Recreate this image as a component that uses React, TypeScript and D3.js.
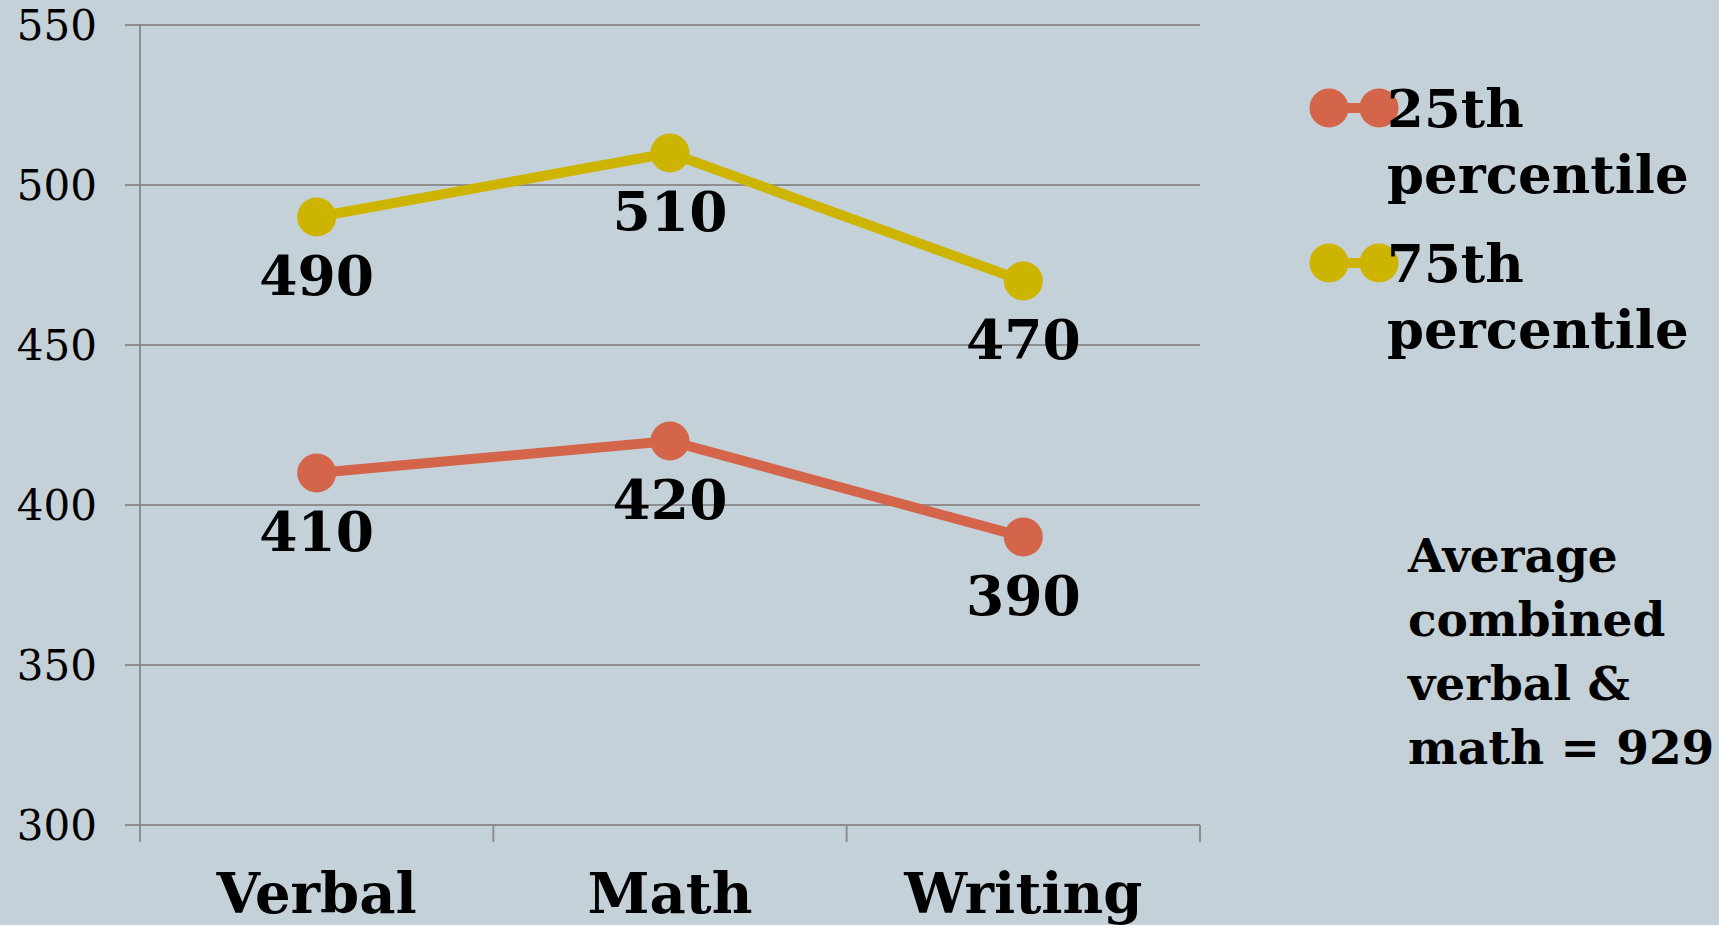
import React from "react";
import * as d3 from "d3";

const categories = ["Verbal", "Math", "Writing"];
const p25 = [410, 420, 390];
const p75 = [490, 510, 470];
const yTicks = [300, 350, 400, 450, 500, 550];
const seriesNames = ["25th percentile", "75th percentile"];
const noteLines = ["Average", "combined", "verbal &", "math = 929"];

const W = 1719;
const H = 925;
const BG = "#C5D1D8";
const GRID = "#8E8E8E";
const ORANGE = "#D4654B";
const YELLOW = "#CDB400";
const FONT = "'DejaVu Serif', Georgia, serif";

export default function App() {
  const x = d3.scaleBand<string>().domain(categories).range([140, 1200]).padding(0);
  const y = d3.scaleLinear().domain([300, 550]).range([825, 25]);
  const cx = (c: string) => (x(c) as number) + x.bandwidth() / 2;
  const line = d3
    .line<number>()
    .x((_, i) => cx(categories[i]))
    .y((v) => y(v));

  const series = [
    { name: seriesNames[0], values: p25, color: ORANGE },
    { name: seriesNames[1], values: p75, color: YELLOW },
  ];

  const bandEdges = categories.map((c) => x(c) as number).concat([1200]);

  return (
    <div style={{ position: "absolute", left: 0, top: 0, width: W, height: H, overflow: "hidden" }}>
      <svg width={W} height={H} style={{ display: "block" }}>
        <rect x={0} y={0} width={W} height={H} fill={BG} />
        {yTicks.map((t) => (
          <line key={t} x1={125} x2={1200} y1={y(t)} y2={y(t)} stroke={GRID} strokeWidth={2} />
        ))}
        <line x1={140} x2={140} y1={y(550)} y2={842} stroke={GRID} strokeWidth={2} />
        {bandEdges.map((e, i) => (
          <line key={i} x1={e} x2={e} y1={y(300)} y2={842} stroke={GRID} strokeWidth={2} />
        ))}
        {yTicks.map((t) => (
          <text
            key={t}
            x={97}
            y={y(t) + 15}
            textAnchor="end"
            fontFamily={FONT}
            fontSize={42}
            fill="#000"
          >
            {t}
          </text>
        ))}
        {categories.map((c) => (
          <text
            key={c}
            x={cx(c)}
            y={913}
            textAnchor="middle"
            fontFamily={FONT}
            fontWeight="bold"
            fontSize={56}
            fill="#000"
          >
            {c}
          </text>
        ))}
        {series.map((s) => (
          <g key={s.name}>
            <path d={line(s.values) || ""} fill="none" stroke={s.color} strokeWidth={10} />
            {s.values.map((v, i) => (
              <circle key={i} cx={cx(categories[i])} cy={y(v)} r={19.5} fill={s.color} />
            ))}
            {s.values.map((v, i) => (
              <text
                key={"l" + i}
                x={cx(categories[i])}
                y={y(v) + 78}
                textAnchor="middle"
                fontFamily={FONT}
                fontWeight="bold"
                fontSize={55}
                fill="#000"
              >
                {v}
              </text>
            ))}
          </g>
        ))}
        {series.map((s, k) => {
          const ly = 108 + k * 155;
          const words = s.name.split(" ");
          return (
            <g key={"lg" + k}>
              <line x1={1329} x2={1379} y1={ly} y2={ly} stroke={s.color} strokeWidth={10} />
              <circle cx={1329} cy={ly} r={19.5} fill={s.color} />
              <circle cx={1379} cy={ly} r={19.5} fill={s.color} />
              {words.map((w, j) => (
                <text
                  key={j}
                  x={1387}
                  y={ly + 19 + j * 66}
                  fontFamily={FONT}
                  fontWeight="bold"
                  fontSize={53}
                  fill="#000"
                >
                  {w}
                </text>
              ))}
            </g>
          );
        })}
        {noteLines.map((t, i) => (
          <text
            key={i}
            x={1408}
            y={572 + i * 64}
            fontFamily={FONT}
            fontWeight="bold"
            fontSize={47}
            fill="#000"
          >
            {t}
          </text>
        ))}
      </svg>
    </div>
  );
}
